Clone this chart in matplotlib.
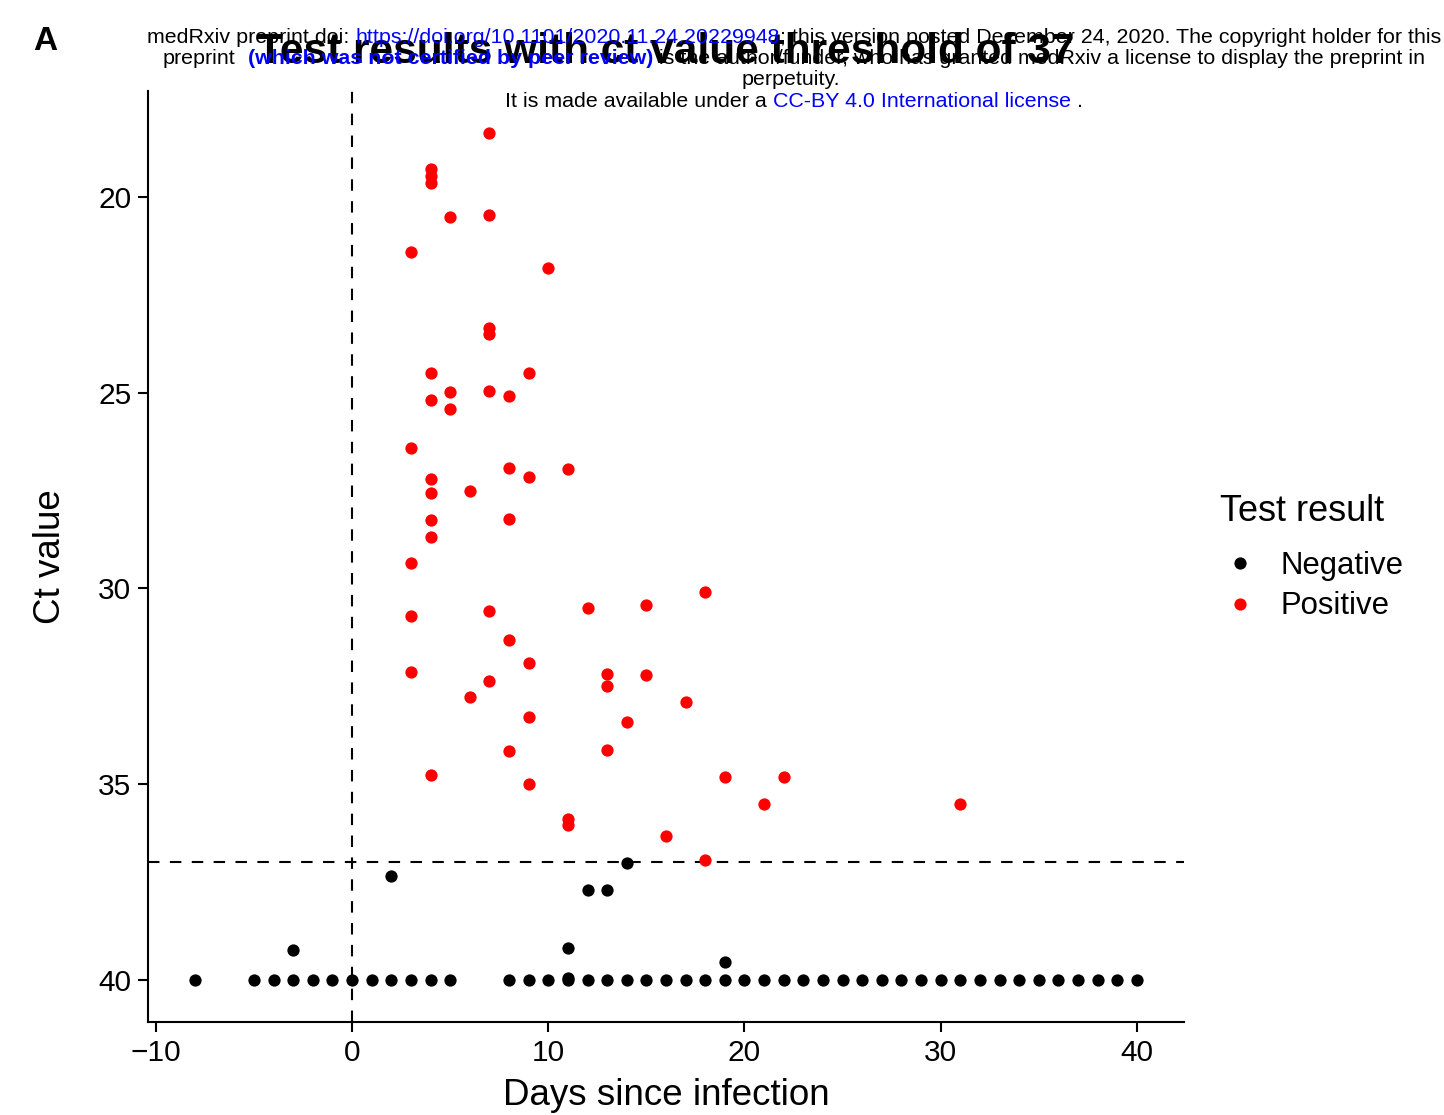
import matplotlib
matplotlib.use('Agg')
import matplotlib.pyplot as plt
from matplotlib.lines import Line2D

plt.rcParams['font.family'] = ['Liberation Sans', 'DejaVu Sans']

# ---------------- data ----------------
pos_days = [7, 4, 4, 4, 5, 7, 3, 10, 7, 7, 4, 9, 5, 7, 4, 8, 5, 3, 8, 11,
            9, 4, 4, 6, 4, 8, 4, 3, 18, 15, 12, 7, 3, 8, 9, 3, 13, 15, 13, 7,
            6, 17, 9, 14, 8, 13, 4, 19, 22, 9, 21, 31, 11, 11, 16, 18]
pos_ct = [18.37, 19.28, 19.46, 19.64, 20.51, 20.46, 21.40, 21.81, 23.35, 23.50,
          24.50, 24.50, 24.98, 24.96, 25.19, 25.08, 25.42, 26.41, 26.92, 26.95,
          27.15, 27.20, 27.56, 27.51, 28.25, 28.22, 28.68, 29.35, 30.09, 30.42,
          30.50, 30.57, 30.70, 31.32, 31.90, 32.13, 32.18, 32.21, 32.49, 32.36,
          32.77, 32.90, 33.28, 33.41, 34.15, 34.13, 34.76, 34.81, 34.81, 34.99,
          35.50, 35.50, 35.89, 36.04, 36.32, 36.94]

neg_days = [-8, -5, -4, -3, -2, -1, 0, 1, 2, 3, 4, 5,
            8, 9, 10, 11, 12, 13, 14, 15, 16, 17, 18, 19, 20, 21, 22, 23, 24,
            25, 26, 27, 28, 29, 30, 31, 32, 33, 34, 35, 36, 37, 38, 39, 40,
            -3, 2, 11, 11, 12, 13, 14, 19]
neg_ct = [40, 40, 40, 40, 40, 40, 40, 40, 40, 40, 40, 40,
          40, 40, 40, 40, 40, 40, 40, 40, 40, 40, 40, 40, 40, 40, 40, 40, 40,
          40, 40, 40, 40, 40, 40, 40, 40, 40, 40, 40, 40, 40, 40, 40, 40,
          39.23, 37.34, 39.95, 39.18, 37.70, 37.70, 37.01, 39.54]

x_ticks = [-10, 0, 10, 20, 30, 40]
y_ticks = [20, 25, 30, 35, 40]
threshold = 37
infection_day = 0
legend_labels = ['Negative', 'Positive']
colors = ['black', '#FF0000']

# ---------------- figure ----------------
W, H = 1444, 1115
fig = plt.figure(figsize=(W / 100, H / 100), dpi=100)
ax = fig.add_axes([148 / W, 1 - 1022 / H, (1184 - 148) / W, (1022 - 91) / H])

ax.axvline(infection_day, color='black', lw=1.5, ls=(0, (5.5, 5)), zorder=1)
ax.axhline(threshold, color='black', lw=1.5, ls=(0, (5.5, 5)), zorder=1)

ax.scatter(neg_days, neg_ct, s=78, color=colors[0], linewidths=0, zorder=3)
ax.scatter(pos_days, pos_ct, s=78, color=colors[1], linewidths=0, zorder=3)

allx = neg_days + pos_days
ally = neg_ct + pos_ct
xr = max(allx) - min(allx)
yr = max(ally) - min(ally)
ax.set_xlim(min(allx) - 0.05 * xr, max(allx) + 0.05 * xr)
ax.set_ylim(max(ally) + 0.05 * yr, min(ally) - 0.05 * yr)

ax.set_xticks(x_ticks)
ax.set_yticks(y_ticks)
ax.tick_params(axis='both', direction='out', length=7, width=1.5,
               labelsize=21.5, color='black', labelcolor='black', pad=5)
for side in ['top', 'right']:
    ax.spines[side].set_visible(False)
for side in ['left', 'bottom']:
    ax.spines[side].set_linewidth(1.5)
    ax.spines[side].set_color('black')

ax.set_xlabel('Days since infection', fontsize=26.5, labelpad=8)
ax.set_ylabel('Ct value', fontsize=26.5, labelpad=22)

handles = [Line2D([], [], ls='none', marker='o', markersize=8.8,
                  markerfacecolor=c, markeredgewidth=0) for c in colors]
leg = ax.legend(handles, legend_labels, title='Test result',
                loc='upper left', bbox_to_anchor=(1220 / W, 1 - 494 / H),
                bbox_transform=fig.transFigure, frameon=False,
                fontsize=22.4, title_fontsize=26, handlelength=1.3,
                handletextpad=0.65, labelspacing=0.33, borderpad=0,
                borderaxespad=0, alignment='left')
leg._legend_box.sep = 16

# ---------------- titles / header ----------------
fig.text(33 / W, 1 - 50 / H, 'A', fontsize=24, fontweight='bold',
         ha='left', va='baseline')
fig.text(666 / W, 1 - 63 / H, 'Test results with ct value threshold of 37',
         fontsize=30.5, fontweight='bold', ha='center', va='baseline', zorder=5)

renderer = fig.canvas.get_renderer()
HS = 15.4
space_px = 0.278 * HS * 100 / 72


def rich_line(pieces, cx, base):
    texts, widths = [], []
    for s, c, w, gap in pieces:
        t = fig.text(0, 1 - base / H, s, color=c, fontsize=HS, fontweight=w,
                     ha='left', va='baseline', zorder=6)
        texts.append(t)
        widths.append(t.get_window_extent(renderer).width)
    total = sum(widths) + sum(p[3] for p in pieces) * space_px
    x = cx - total / 2
    for t, wd, p in zip(texts, widths, pieces):
        x += p[3] * space_px
        t.set_x(x / W)
        x += wd


rich_line([('medRxiv preprint doi:', 'black', 'normal', 0),
           ('https://doi.org/10.1101/2020.11.24.20229948', 'blue', 'normal', 1),
           ('; this version posted December 24, 2020. The copyright holder for this',
            'black', 'normal', 0)], 794, 43)
rich_line([('preprint', 'black', 'normal', 0),
           ('(which was not certified by peer review)', 'blue', 'bold', 2),
           ('is the author/funder, who has granted medRxiv a license to display the preprint in',
            'black', 'normal', 1)], 794, 64)
rich_line([('perpetuity.', 'black', 'normal', 0)], 791, 85)
rich_line([('It is made available under a', 'black', 'normal', 0),
           ('CC-BY 4.0 International license', 'blue', 'normal', 1),
           ('.', 'black', 'normal', 1)], 794, 107)

fig.savefig('out.png', dpi=100)
